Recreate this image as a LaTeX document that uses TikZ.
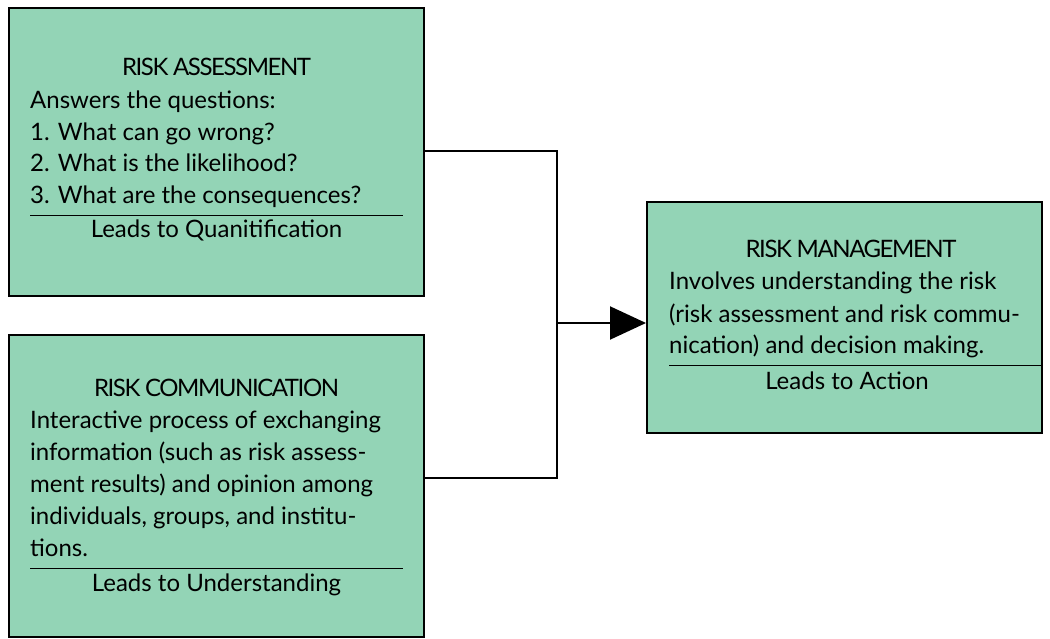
\documentclass[tikz,border=0pt]{standalone}
\usepackage{fontspec}
\setmainfont{Lato}
\newfontfamily\titlefont[LetterSpace=-6]{Lato}
\usetikzlibrary{arrows.meta}
\definecolor{boxgreen}{RGB}{147,212,182}
\tikzset{
  riskbox/.style={draw=black, line width=2pt, fill=boxgreen, rectangle, inner sep=0pt},
  bodyline/.style={anchor=base west, inner sep=0pt, font=\fontsize{24}{30}\selectfont},
  titleline/.style={anchor=base, inner sep=0pt, font=\fontsize{24}{30}\titlefont},
  footline/.style={anchor=base, inner sep=0pt, font=\fontsize{24}{30}\selectfont},
  sepline/.style={line width=1pt},
  conn/.style={line width=2pt},
}
\begin{document}
\begin{tikzpicture}[x=1pt,y=-1pt]
\useasboundingbox (0,0) rectangle (1050,639);
% boxes
\node[riskbox, minimum width=415pt, minimum height=288pt] (b1) at (216.5,152) {};
\node[riskbox, minimum width=415pt, minimum height=302pt] (b2) at (216.5,486) {};
\node[riskbox, minimum width=395pt, minimum height=231pt] (b3) at (844.5,317.5) {};
% box 1
\node[titleline] (t1) at (216.5,76) {RISK ASSESSMENT};
\node[bodyline] (l11) at (30,109) {Answers the questions:};
\node[bodyline] (l12) at (30,141) {1. What can go wrong?};
\node[bodyline] (l13) at (30,172) {2. What is the likelihood?};
\node[bodyline] (l14) at (30,204) {3. What are the consequences?};
\coordinate (s1a) at (30,216); \coordinate (s1b) at (403,216);
\draw[sepline] (s1a) -- (s1b);
\node[footline] (f1) at (216.5,238) {Leads to Quanitification};
% box 2
\node[titleline] (t2) at (216.5,396) {RISK COMMUNICATION};
\node[bodyline] (l21) at (30,428) {Interactive process of exchanging};
\node[bodyline] (l22) at (30,460) {information (such as risk assess-};
\node[bodyline] (l23) at (30,492) {ment results) and opinion among};
\node[bodyline] (l24) at (30,524) {individuals, groups, and institu-};
\node[bodyline] (l25) at (30,556) {tions.};
\coordinate (s2a) at (30,568); \coordinate (s2b) at (403,568);
\draw[sepline] (s2a) -- (s2b);
\node[footline] (f2) at (216.5,591) {Leads to Understanding};
% box 3
\node[titleline] (t3) at (851,258) {RISK MANAGEMENT};
\node[bodyline] (l31) at (669,290) {Involves understanding the risk};
\node[bodyline] (l32) at (669,322) {(risk assessment and risk commu-};
\node[bodyline] (l33) at (669,353) {nication) and decision making.};
\coordinate (s3a) at (669,365); \coordinate (s3b) at (1042,365);
\draw[sepline] (s3a) -- (s3b);
\node[footline] (f3) at (847,389) {Leads to Action};
% connectors
\coordinate (j1) at (557,151);
\coordinate (j2) at (557,478);
\coordinate (j) at (557,323);
\draw[conn] (j1 -| b1.east) -- (j1) -- (j2) -- (j2 -| b2.east);
\draw[conn, -{Triangle[length=36pt,width=33pt]}] (j) -- (j -| b3.west);
\end{tikzpicture}
\end{document}
